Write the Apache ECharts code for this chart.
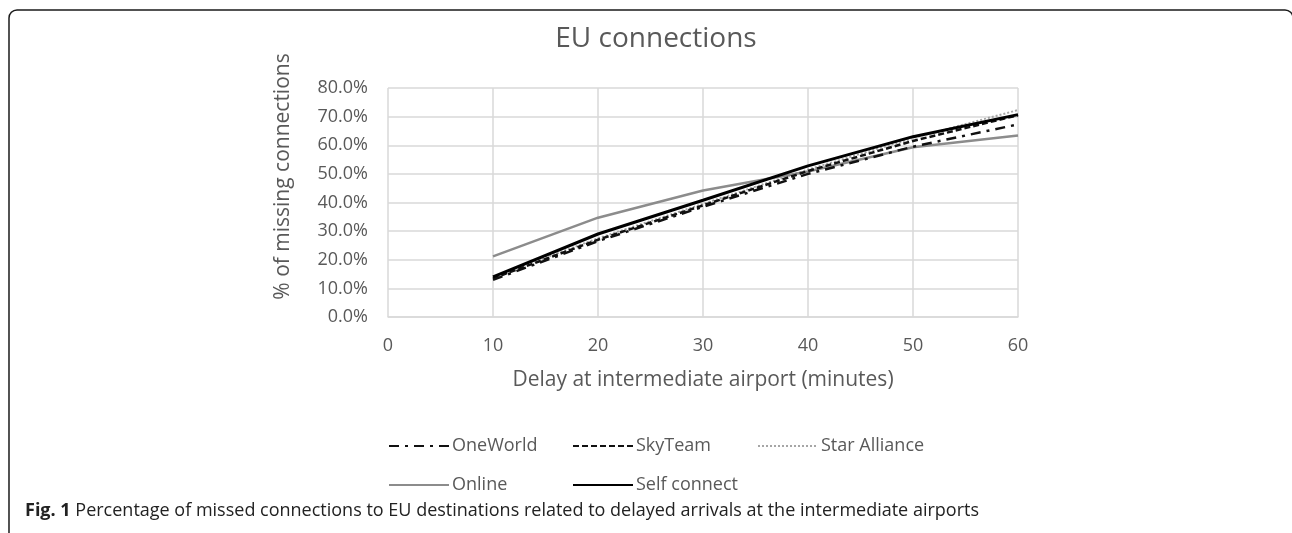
<!DOCTYPE html>
<html><head><meta charset="utf-8">
<script src="https://cdn.jsdelivr.net/npm/echarts@6/dist/echarts.min.js"></script>
<style>html,body{margin:0;padding:0;background:#fff}#c{width:1292px;height:533px}</style>
</head><body><div id="c"></div>
<script>
var delays = [10, 20, 30, 40, 50, 60];
var xTicks = [0, 10, 20, 30, 40, 50, 60];
var seriesNames = ['OneWorld', 'SkyTeam', 'Star Alliance', 'Online', 'Self connect'];
var oneWorld = [13.0, 26.5, 38.5, 50.0, 59.5, 67.3];
var skyTeam = [13.5, 27.0, 39.0, 51.0, 61.5, 70.5];
var starAlliance = [14.0, 27.5, 39.5, 51.5, 62.5, 72.3];
var online = [21.2, 34.7, 44.2, 50.8, 59.3, 63.4];
var selfConnect = [14.0, 29.0, 40.8, 52.8, 63.0, 70.7];

function pts(arr){ return delays.map(function(d,i){ return [d, arr[i]/100]; }); }

var txt = '#595959';
var font = 'Open Sans';
function leg(name, left, top){
  return { data: [name], left: left, top: top, itemWidth: 60, itemHeight: 14, itemGap: 0,
    textStyle: { fontFamily: font, fontSize: 18, color: txt, padding: [0,0,0,-2] },
    itemStyle: { opacity: 0 } };
}
var chart = echarts.init(document.getElementById('c'));
chart.setOption({
  animation: false,
  title: { text: 'EU connections', left: 651, top: 20, textAlign: 'center',
    textStyle: { fontFamily: font, fontSize: 28, fontWeight: 'normal', color: txt } },
  grid: { left: 388, right: 274, top: 88, bottom: 216 },
  xAxis: { type: 'value', min: 0, max: 60, interval: 10,
    name: 'Delay at intermediate airport (minutes)', nameLocation: 'middle', nameGap: 53,
    nameTextStyle: { fontFamily: font, fontSize: 21, color: txt },
    axisLine: { show: true, lineStyle: { color: '#d9d9d9', width: 1.5 } },
    axisTick: { show: false },
    axisLabel: { margin: 20, fontFamily: font, fontSize: 18, color: txt,
      formatter: function(v){ return xTicks.indexOf(v) >= 0 ? String(v) : ''; } },
    splitLine: { show: true, lineStyle: { color: '#d9d9d9', width: 1.5 } } },
  yAxis: { type: 'value', min: 0, max: 0.8, interval: 0.1,
    name: '% of missing connections', nameLocation: 'middle', nameGap: 94,
    nameTextStyle: { fontFamily: font, fontSize: 21, color: txt, padding: [0, 0, 0, 52] },
    axisLine: { show: false }, axisTick: { show: false },
    axisLabel: { margin: 20, fontFamily: font, fontSize: 18, color: txt,
      formatter: function(v){ return (v*100).toFixed(1) + '%'; } },
    splitLine: { show: true, lineStyle: { color: '#d9d9d9', width: 1.5 } } },
  legend: [
    leg(seriesNames[0], 383, 432),
    leg(seriesNames[1], 567, 432),
    leg(seriesNames[2], 752, 432),
    leg(seriesNames[3], 383, 471),
    leg(seriesNames[4], 567, 471)
  ],
  series: [
    { name: seriesNames[0], type: 'line', data: pts(oneWorld), symbol: 'none', z: 3,
      lineStyle: { color: '#111', width: 2.5, type: [10, 6, 3, 6] }, itemStyle: { color: '#111' } },
    { name: seriesNames[1], type: 'line', data: pts(skyTeam), symbol: 'none', z: 4,
      lineStyle: { color: '#111', width: 2.5, type: [6, 3] }, itemStyle: { color: '#111' } },
    { name: seriesNames[2], type: 'line', data: pts(starAlliance), symbol: 'none', z: 2,
      lineStyle: { color: '#a6a6a6', width: 2, type: [2, 2] }, itemStyle: { color: '#a6a6a6' } },
    { name: seriesNames[3], type: 'line', data: pts(online), symbol: 'none', z: 2,
      lineStyle: { color: '#8c8c8c', width: 2.5 }, itemStyle: { color: '#8c8c8c' } },
    { name: seriesNames[4], type: 'line', data: pts(selfConnect), symbol: 'none', z: 5,
      lineStyle: { color: '#000', width: 3 }, itemStyle: { color: '#000' } }
  ],
  graphic: [
    { type: 'rect', shape: { x: 9, y: 10, width: 1284, height: 600, r: 8 },
      style: { fill: 'none', stroke: '#1a1a1a', lineWidth: 1.5 }, silent: true },
    { type: 'text', left: 25, top: 502,
      style: { text: '{b|Fig. 1} Percentage of missed connections to EU destinations related to delayed arrivals at the intermediate airports',
        rich: { b: { fontFamily: font, fontSize: 18, fontWeight: 'bold', fill: '#222' } },
        fontFamily: font, fontSize: 18, fill: '#222' } }
  ]
});
</script></body></html>
